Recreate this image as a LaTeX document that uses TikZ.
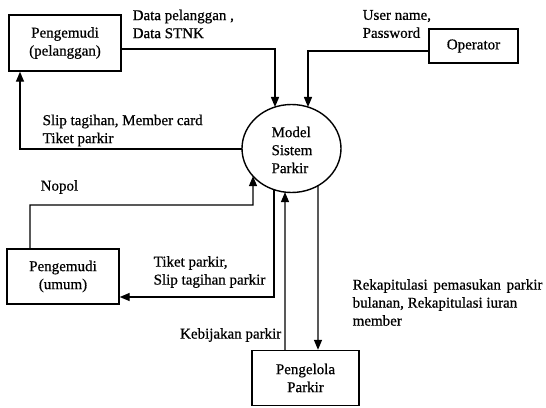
\documentclass[tikz,border=0pt]{standalone}
\usepackage{fontspec}
\setmainfont{Liberation Serif}[FakeBold=0.6]
\usetikzlibrary{arrows.meta,intersections}
\begin{document}
\begin{tikzpicture}[x=1pt,y=-1pt,
  line width=1.4pt,
  every node/.style={font=\fontsize{15}{18}\selectfont},
  ent/.style={draw,align=center,inner sep=0pt},
  lbl/.style={align=left,inner sep=0pt},
  arr/.style={-{Triangle[length=10pt,width=8pt]}}]
\useasboundingbox (0,0) rectangle (546,407);
\fill[white] (0,0) rectangle (546,407);

% entities
\node[ent,minimum width=112pt,minimum height=56pt] (b1) at (65,43) {Pengemudi\\(pelanggan)};
\node[ent,minimum width=89pt,minimum height=34pt] (op) at (473.5,46) {Operator};
\node[ent,minimum width=112pt,minimum height=55pt] (b2) at (63,276.5) {Pengemudi\\(umum)};
\node[ent,minimum width=107pt,minimum height=55pt] (b3) at (305.5,378) {Pengelola\\Parkir};

% process
\draw[name path=E] (291.5,148.5) ellipse [x radius=49.5, y radius=44];
\node[lbl] (e) at (292,150) {Model\\Sistem\\Parkir};

% border points
\path[name path=vA] (275,0) -- (275,400);
\path[name path=vB] (308,0) -- (308,400);
\path[name path=vC] (253,0) -- (253,400);
\path[name path=vD] (274,0) -- (274,400);
\path[name path=vE] (285,0) -- (285,400);
\path[name path=vF] (318,0) -- (318,400);
\path[name path=hA] (0,149) -- (546,149);
\path[name intersections={of=E and vA, sort by=vA, by={t1,x1}}];
\path[name intersections={of=E and vB, sort by=vB, by={t2,x2}}];
\path[name intersections={of=E and vC, sort by=vC, by={x3,n1}}];
\path[name intersections={of=E and vD, sort by=vD, by={x4,n2}}];
\path[name intersections={of=E and vE, sort by=vE, by={x5,n3}}];
\path[name intersections={of=E and vF, sort by=vF, by={x6,n4}}];
\path[name intersections={of=E and hA, sort by=hA, by={l1,x7}}];

% flows
\draw[arr] (b1.east |- 0,49) -| (t1);
\draw[arr] (op.west |- 0,51) -| (t2);
\draw[arr] (l1) -| (b1.south -| 20,0);
\draw[arr] (b2.north -| 30,0) |- (253,205) -- (n1);
\draw[arr] (n2) |- (b2.east |- 0,297);
\draw[arr] (b3.north -| 285,0) -- (n3);
\draw[arr] (n4) -- (b3.north -| 318,0);

% labels
\node[lbl,anchor=west] (L1) at (132,24) {Data pelanggan ,\\Data STNK};
\node[lbl,anchor=west] (L2) at (362,24) {User name,\\Password};
\node[lbl,anchor=west] (L3) at (42,130.5) {Slip tagihan, Member card\\Tiket parkir};
\node[lbl,anchor=west] (L4) at (40,187) {Nopol};
\node[lbl,anchor=west] (L5) at (153,272) {Tiket parkir,\\Slip tagihan parkir};
\node[lbl,anchor=east] (L6) at (282,335) {Kebijakan parkir};
\node[lbl,anchor=west] (L7) at (352,302.5) {Rekapitulasi\hspace{2pt} pemasukan\hspace{2pt} parkir\\bulanan, Rekapitulasi iuran\\member};
\end{tikzpicture}
\end{document}
